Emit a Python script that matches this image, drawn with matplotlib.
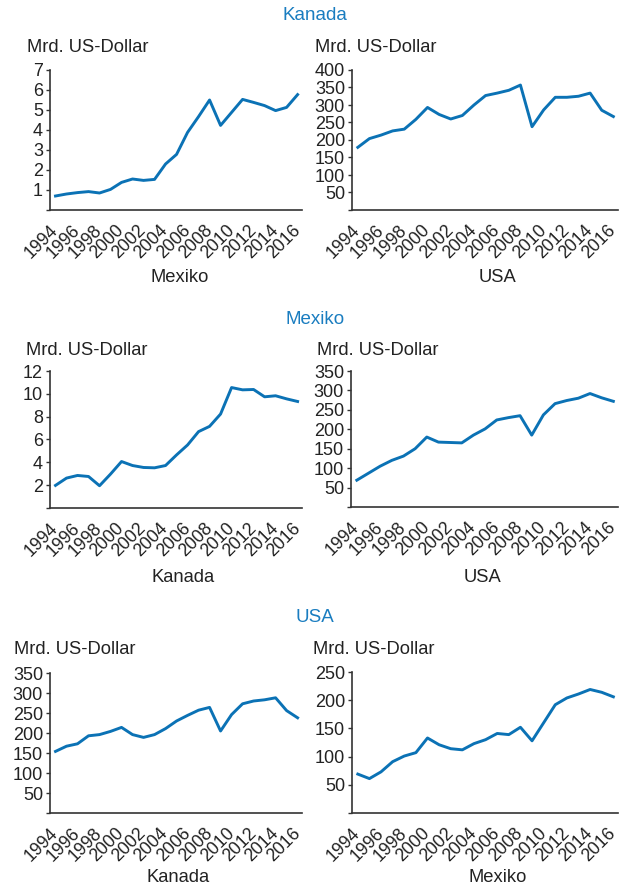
import matplotlib
matplotlib.use('Agg')
import matplotlib.pyplot as plt
import matplotlib.transforms as mtransforms

plt.rcParams['font.family'] = ['Liberation Sans', 'DejaVu Sans']

years = list(range(1994, 2017))
year_ticks = list(range(1994, 2017, 2))

# Kanada: imports from Mexiko and USA
kanada_mexiko = [0.70, 0.80, 0.87, 0.92, 0.85, 1.03, 1.38, 1.55, 1.48, 1.53, 2.30,
                 2.78, 3.88, 4.67, 5.50, 4.23, 4.88, 5.53, 5.38, 5.22, 4.97, 5.13, 5.77]
kanada_usa = [179, 204, 214, 226, 231, 259, 293, 273, 260, 270, 300,
              327, 334, 342, 357, 238, 286, 322, 322, 325, 334, 285, 267]

# Mexiko: imports from Kanada and USA
mexiko_kanada = [1.98, 2.62, 2.85, 2.76, 1.95, 2.97, 4.07, 3.72, 3.55, 3.52, 3.72,
                 4.65, 5.52, 6.69, 7.15, 8.23, 10.55, 10.35, 10.38, 9.74, 9.83, 9.56, 9.33]
mexiko_usa = [69, 87, 105, 120, 131, 150, 180, 167, 166, 165, 185,
              201, 224, 230, 235, 185, 237, 266, 274, 280, 292, 281, 272]

# USA: imports from Kanada and Mexiko
usa_kanada = [154, 167, 173, 193, 196, 204, 214, 196, 189, 196, 211,
              230, 244, 257, 264, 205, 246, 273, 280, 283, 288, 256, 238]
usa_mexiko = [69, 61, 73, 91, 101, 107, 133, 121, 114, 112, 123,
              130, 141, 139, 152, 128, 160, 192, 204, 211, 219, 214, 206]

group_titles = ['Kanada', 'Mexiko', 'USA']
partner_names = [['Mexiko', 'USA'], ['Kanada', 'USA'], ['Kanada', 'Mexiko']]
series = [[kanada_mexiko, kanada_usa], [mexiko_kanada, mexiko_usa], [usa_kanada, usa_mexiko]]
y_ticks = [[list(range(1, 8)), list(range(50, 401, 50))],
           [list(range(2, 13, 2)), list(range(50, 351, 50))],
           [list(range(50, 351, 50)), list(range(50, 251, 50))]]

W, H = 634, 888
line_color = '#0b72b5'
title_color = '#1a7dc0'
text_color = '#222222'

fig = plt.figure(figsize=(W / 100, H / 100), dpi=100)

# pixel boxes: (left, top, right, bottom)
boxes = [[(50, 70, 302, 210), (352, 70, 618, 210)],
         [(50, 371, 302, 508), (351, 371, 618, 507)],
         [(50, 673, 302, 813), (352, 672, 618, 813)]]
title_y = [15, 320, 618]
unit_pos = [[(27, 48), (315, 48)], [(26, 350), (317, 350)], [(14, 649), (313, 649)]]
partner_pos = [[(180, 277), (498, 277)], [(183, 577), (482, 577)], [(178, 877), (498, 877)]]
label_dx = [4, 14]

for r in range(3):
    fig.text(315 / W, 1 - title_y[r] / H, group_titles[r], color=title_color,
             fontsize=13.5, ha='center', va='center')
    for c in range(2):
        l, t, rr, b = boxes[r][c]
        ax = fig.add_axes([l / W, 1 - b / H, (rr - l) / W, (b - t) / H])
        ax.plot(years, series[r][c], color=line_color, lw=2.1, solid_joinstyle='round')
        ticks = y_ticks[r][c]
        ax.set_ylim(0, ticks[-1])
        ax.set_yticks([0] + ticks)
        ax.set_yticklabels([''] + [str(v) for v in ticks])
        ax.set_xlim(1993.5, 2016.4)
        ax.set_xticks(year_ticks)
        ax.set_xticklabels([str(y) for y in year_ticks], rotation=45, ha='right',
                           va='center', rotation_mode='anchor')
        offset = mtransforms.ScaledTranslation(label_dx[c] / 100, 0, fig.dpi_scale_trans)
        for lab in ax.get_xticklabels():
            lab.set_transform(lab.get_transform() + offset)
        for s in ['top', 'right']:
            ax.spines[s].set_visible(False)
        for s in ['left', 'bottom']:
            ax.spines[s].set_color('#333333')
            ax.spines[s].set_linewidth(1.2)
        ax.tick_params(axis='y', length=3, width=1, color='#333333', pad=2,
                       labelsize=13, labelcolor=text_color)
        ax.tick_params(axis='x', length=0, pad=13, labelsize=12.8, labelcolor=text_color)
        ux, uy = unit_pos[r][c]
        fig.text(ux / W, 1 - uy / H, 'Mrd. US-Dollar', fontsize=13.2, color=text_color,
                 ha='left', va='center')
        px, py = partner_pos[r][c]
        fig.text(px / W, 1 - py / H, partner_names[r][c], fontsize=13.2, color=text_color,
                 ha='center', va='center')

fig.savefig('out.png', dpi=100)
